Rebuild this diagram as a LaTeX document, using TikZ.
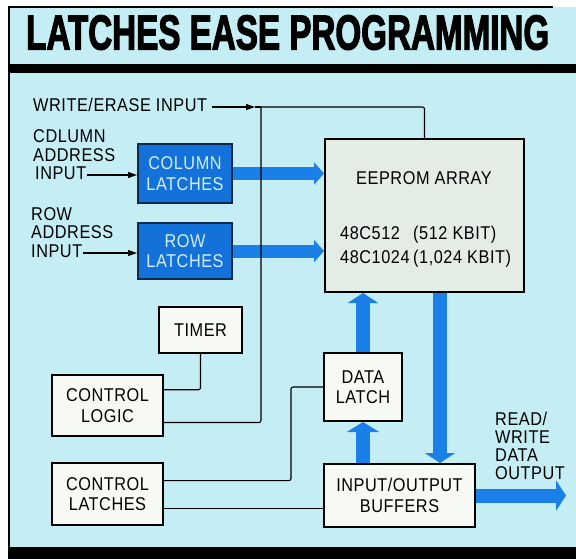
\documentclass[tikz,border=0pt]{standalone}
\usepackage{fontspec}
\setmainfont{Liberation Sans}[FakeStretch=0.88, LetterSpace=3]
\newfontfamily\titlefont[FakeBold=3]{Liberation Sans Bold}
\usetikzlibrary{arrows.meta,calc}
\definecolor{bgc}{HTML}{C4EDF4}
\definecolor{bluea}{HTML}{1A7FE6}
\definecolor{latchfill}{HTML}{1272DA}
\definecolor{latchdraw}{HTML}{10284A}
\definecolor{latchtxt}{HTML}{D6EEFB}
\definecolor{boxfill}{HTML}{F7F9F4}
\definecolor{eefill}{HTML}{E4ECE6}
\newcommand\lblfont{\fontsize{18.5}{18.5}\selectfont}
\newcommand\boxfont{\fontsize{18.5}{20.5}\selectfont}
\pgfdeclarelayer{bg}
\pgfsetlayers{bg,main}
\tikzset{
  wire/.style={line width=1.1pt, draw=black},
  blk/.style={draw=black, line width=2pt, fill=boxfill, align=center, inner sep=0pt, font=\boxfont},
  latchbox/.style={draw=latchdraw, line width=2pt, fill=latchfill, text=latchtxt, align=center, inner sep=0pt, font=\boxfont},
  lab/.style={anchor=base west, inner sep=0pt, font=\lblfont},
  txt/.style={inner sep=0pt, font=\lblfont},
  bus/.style={line width=14pt, draw=bluea, -{Triangle[width=#1,length=10pt]}},
  bus/.default=30pt,
  smallarr/.style={-{Triangle[length=9pt,width=6pt]}},
}
\begin{document}
\begin{tikzpicture}[x=1pt,y=-1pt]
\useasboundingbox (0,0) rectangle (576,559);
% title
\node[anchor=south west, inner sep=0pt] (title) at (26,50)
  {\resizebox{523pt}{34pt}{\titlefont LATCHES EASE PROGRAMMING}};

% boxes
\node[latchbox, minimum width=94pt, minimum height=59pt] (colL) at (185,173.5) {COLUMN\\LATCHES};
\node[latchbox, minimum width=94pt, minimum height=56pt] (rowL) at (185,251) {ROW\\LATCHES};
\node[blk, fill=eefill, minimum width=199pt, minimum height=153pt] (eeprom) at (424.5,215.5) {};
\node[blk, minimum width=83pt, minimum height=46pt] (timer) at (200.5,330) {TIMER};
\node[blk, minimum width=111pt, minimum height=61pt] (clogic) at (107.5,405.5) {CONTROL\\LOGIC};
\node[blk, minimum width=111pt, minimum height=62pt] (clatch) at (107.5,494) {CONTROL\\LATCHES};
\node[blk, minimum width=78pt, minimum height=68pt] (dlatch) at (363,387) {DATA\\LATCH};
\node[blk, minimum width=151pt, minimum height=63pt] (iob) at (399.5,495.5) {INPUT/OUTPUT\\BUFFERS};

\begin{pgfonlayer}{bg}
% background and frame
\fill[white] (0,0) rectangle (576,559);
\fill[bgc] (9,7) rectangle (576,548);
\draw[line width=1.2pt] (553,7) -- (9,7) -- (9,548);
\fill[black] (9,64) rectangle (576,73);
\fill[black] (8,547) rectangle (576,559);
% buses
\draw[bus=22pt, line width=13pt] (colL.east) -- (colL.east -| eeprom.west);
\draw[bus=22pt, line width=13pt] (rowL.east) -- (rowL.east -| eeprom.west);
\draw[bus=30pt] (dlatch.north) -- (dlatch.north |- eeprom.south);
\draw[bus=32pt] (dlatch.south |- iob.north) -- (dlatch.south);
\coordinate (dn) at (440,0);
\draw[bus=30pt] (dn |- eeprom.south) -- (dn |- iob.north);
\coordinate (outtip) at (566,0);
\draw[bus=30pt] (iob.east) -- (iob.east -| outtip);
% wire over buses (still below boxes)
\coordinate (wj) at (261,107);
\coordinate (cl1) at ($(clogic.north east)!0.77!(clogic.south east)$);
\draw[wire, rounded corners=2pt] (wj) |- (cl1);
\end{pgfonlayer}

% EEPROM texts
\node[txt, anchor=base] (eetitle) at (424,185) {EEPROM ARRAY};
\node[lab] (p1a) at (340,239) {48C512};
\node[lab] (p1b) at (413,239) {(512 KBIT)};
\node[lab] (p2a) at (340,263) {48C1024};
\node[lab] (p2b) at (413,263) {(1,024 KBIT)};

% side labels
\node[lab] (we) at (33,112) {WRITE/ERASE INPUT};
\node[lab] (cin) at (33,143) {\vtop{\hbox{CDLUMN}\hbox{ADDRESS}\hbox{\kern2pt INPUT}}};
\node[lab] (rin) at (31,220) {\vtop{\hbox{ROW}\hbox{ADDRESS}\hbox{INPUT}}};
\node[lab] (rw) at (495,425) {\vtop{\baselineskip=18.3pt\hbox{READ/}\hbox{WRITE}\hbox{DATA}\hbox{OUTPUT}}};

% thin connectors
\coordinate (wstart) at (212,107);
\coordinate (wtip) at (255,107);
\draw[wire, smallarr] (wstart) -- (wtip);
\draw[wire] (wtip) -- (wj);
\draw[wire, rounded corners=2pt] (wj) -| (eeprom.north);
\coordinate (cs) at (87,175);
\draw[wire, smallarr] (cs) -- (cs -| colL.west);
\coordinate (rs) at (83,253);
\draw[wire, smallarr] (rs) -- (rs -| rowL.west);
\coordinate (cl0) at ($(clogic.north east)!0.25!(clogic.south east)$);
\draw[wire, rounded corners=2pt] (timer.south) |- (cl0);
\coordinate (ca) at ($(clatch.north east)!0.29!(clatch.south east)$);
\draw[wire, rounded corners=2pt] (ca) -| ($(dlatch.west)+(-32,0)$) -- (dlatch.west);
\coordinate (cb) at ($(clatch.north east)!0.73!(clatch.south east)$);
\draw[wire] (cb) -- (cb -| iob.west);
\end{tikzpicture}
\end{document}
